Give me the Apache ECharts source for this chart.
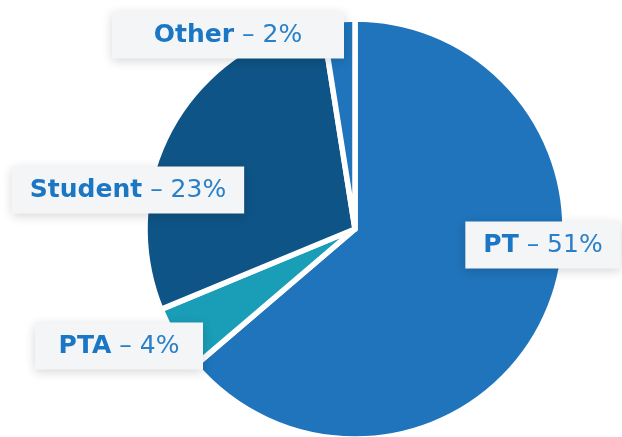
<!DOCTYPE html>
<html>
<head>
<meta charset="utf-8">
<script src="https://cdn.jsdelivr.net/npm/echarts@6/dist/echarts.min.js"></script>
<style>
  html, body { margin: 0; padding: 0; background: #fff; }
  #chart { width: 622px; height: 437px; }
</style>
</head>
<body>
<div id="chart"></div>
<script>
// slices, clockwise from 12 o'clock
var categories = ['PT', 'PTA', 'Student', 'Other'];
var values = [51, 4, 23, 2];
var sliceColors = ['#1f74bb', '#1a9db7', '#0e5486', '#1f74bb'];
// label box centres (px) and fixed text widths
var labelPos = [[543, 245], [119, 346], [128, 190], [228, 35]];
var labelWidths = [null, 132, null, 196];

var myChart = echarts.init(document.getElementById('chart'));

var pieData = categories.map(function (name, i) {
  var item = {
    name: name,
    value: values[i],
    itemStyle: { color: sliceColors[i] }
  };
  if (labelWidths[i]) {
    item.label = { width: labelWidths[i], align: 'center' };
  }
  return item;
});

var option = {
  animation: false,
  series: [
    {
      type: 'pie',
      center: [355, 229],
      radius: [0, 210],
      startAngle: 90,
      clockwise: true,
      itemStyle: {
        borderColor: '#ffffff',
        borderWidth: 5.5
      },
      label: {
        show: true,
        position: 'inside',
        overflow: 'none',
        formatter: function (p) {
          return '{b|' + p.name + '}{n| \u2013 ' + p.value + '%}';
        },
        backgroundColor: '#f3f5f6',
        padding: [11, 18],
        shadowBlur: 10,
        shadowColor: 'rgba(0,0,0,0.16)',
        shadowOffsetX: 0,
        shadowOffsetY: 2,
        rich: {
          b: {
            fontFamily: 'DejaVu Sans',
            fontWeight: 'bold',
            fontSize: 25,
            lineHeight: 25,
            color: '#1b76c4'
          },
          n: {
            fontFamily: 'DejaVu Sans',
            fontWeight: 'normal',
            fontSize: 25,
            lineHeight: 25,
            color: '#2a80c8'
          }
        }
      },
      labelLine: { show: false },
      labelLayout: function (params) {
        var p = labelPos[params.dataIndex];
        return { x: p[0], y: p[1], align: 'center', verticalAlign: 'middle' };
      },
      data: pieData
    }
  ]
};

myChart.setOption(option);
</script>
</body>
</html>
